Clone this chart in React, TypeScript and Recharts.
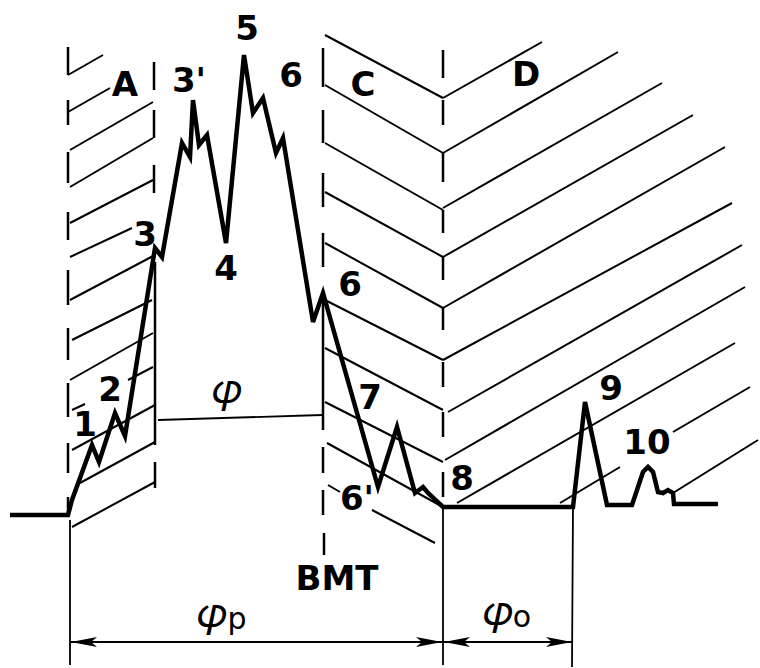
import React from "react";
import { ComposedChart, Line, Scatter, XAxis, YAxis } from "recharts";

/**
 * Injection pressure trace with hatched phases A / C / D.
 * Drawing units: x = crank angle scale (0..760), y = measured downward (0..668).
 */

// main pressure trace (points 1 .. 10)
const trace: [number, number][] = [
  [10, 515], [68, 515], [72, 500], [92, 445], [99, 462], [115, 413], [125, 436],
  [155, 248], [162, 257], [182, 143], [190, 157], [193, 100], [199, 145], [207, 135],
  [226, 243], [244, 55], [253, 113], [263, 98], [276, 153], [283, 138], [313, 322],
  [323, 293], [378, 487], [397, 427], [415, 493], [423, 487], [428, 493], [443, 507],
  [573, 507], [585, 402], [607, 505], [632, 505], [643, 472], [648, 467], [653, 472],
  [658, 492], [663, 493], [668, 490], [673, 493], [674, 504], [718, 504],
];

// hatch strokes, zone A (rising)
const hatchA: number[][] = [
  [68, 75, 103, 55], [68, 112, 110, 88], [70, 150, 153, 102], [70, 187, 153, 138],
  [70, 223, 153, 180], [70, 257, 132, 228], [70, 300, 155, 255], [72, 340, 152, 300],
  [70, 380, 153, 333], [72, 410, 85, 404], [128, 380, 153, 367], [72, 450, 155, 405],
  [80, 483, 155, 442], [72, 527, 155, 482],
];

// hatch strokes, zone C (falling)
const hatchC: number[][] = [
  [325, 35, 443, 98], [325, 85, 443, 153], [325, 143, 443, 210], [325, 192, 443, 257],
  [325, 243, 443, 308], [325, 300, 443, 360], [325, 348, 443, 410], [325, 402, 443, 462],
  [327, 443, 443, 507], [328, 485, 340, 492], [372, 510, 435, 543],
];

// hatch strokes, zone D (rising)
const hatchD: number[][] = [
  [443, 98, 542, 42], [443, 153, 618, 52], [443, 208, 662, 83], [443, 257, 693, 115],
  [443, 308, 725, 147], [443, 360, 732, 203], [448, 412, 742, 245], [445, 460, 745, 287],
  [457, 503, 735, 343], [560, 503, 620, 467], [673, 432, 750, 387], [673, 493, 758, 440],
];

// dashed zone boundaries: x, then dash spans (y from, y to)
const boundA1: number[][] = [
  [68, 47, 75], [68, 100, 125], [68, 152, 183], [68, 212, 240], [68, 270, 305],
  [68, 328, 360], [68, 383, 417], [68, 443, 473], [68, 497, 515],
];
const boundA2: number[][] = [
  [154, 62, 90], [154, 110, 138], [154, 165, 193], [155, 262, 445], [155, 462, 488],
];
const boundC: number[][] = [
  [323, 48, 87], [323, 110, 143], [323, 173, 207], [323, 233, 267], [323, 293, 430],
  [323, 447, 473], [323, 490, 515], [324, 533, 555],
];
const boundD: number[][] = [
  [443, 50, 78], [443, 100, 125], [443, 153, 182], [443, 210, 233], [443, 257, 280],
  [443, 308, 330], [443, 362, 387], [443, 412, 437], [443, 472, 497],
];

// dimension lines (φ, φp, φo) and extension lines
const dimLines: number[][] = [
  [158, 420, 322, 415], [70, 520, 70, 665], [443, 507, 443, 665], [573, 507, 572, 667],
  [70, 642, 573, 642],
];
const arrowHeads = [
  { x: 71, y: 642, dir: -1 },
  { x: 442, y: 642, dir: 1 },
  { x: 444, y: 642, dir: -1 },
  { x: 572, y: 642, dir: 1 },
];

const labels = [
  { x: 125, y: 84, t: "A" }, { x: 189, y: 80, t: "3'" }, { x: 247, y: 28, t: "5" },
  { x: 291, y: 75, t: "6" }, { x: 363, y: 84, t: "C" }, { x: 526, y: 74, t: "D" },
  { x: 145, y: 234, t: "3" }, { x: 226, y: 268, t: "4" }, { x: 350, y: 284, t: "6" },
  { x: 85, y: 424, t: "1" }, { x: 110, y: 389, t: "2" }, { x: 370, y: 397, t: "7" },
  { x: 357, y: 498, t: "6'" }, { x: 462, y: 478, t: "8" }, { x: 611, y: 388, t: "9" },
  { x: 647, y: 442, t: "10" }, { x: 337, y: 578, t: "BMT" },
];
const phiLabels = [
  { x: 227, y: 388, t: "\u{1D711}", sub: "" },
  { x: 222, y: 612, t: "\u{1D711}", sub: "p" },
  { x: 507, y: 610, t: "\u{1D711}", sub: "o" },
];

const toPath = (pts: [number, number][]) => pts.map(([x, y]) => ({ x, y }));
const segPath = (segs: number[][]) =>
  segs.flatMap(([x1, y1, x2, y2]) => [
    { x: x1, y: y1 },
    { x: x2, y: y2 },
    { x: null, y: null },
  ]);
const dashPath = (spans: number[][]) =>
  segPath(spans.map(([x, a, b]) => [x, a, x, b]));

const FONT = "'DejaVu Sans', sans-serif";

function Arrow(props: any) {
  const { cx, cy, payload } = props;
  const d = payload.dir;
  const len = 26;
  return (
    <polygon
      points={`${cx},${cy} ${cx - d * len},${cy - 5} ${cx - d * (len - 6)},${cy} ${cx - d * len},${cy + 5}`}
      fill="#000"
    />
  );
}

function Label(props: any) {
  const { cx, cy, payload } = props;
  return (
    <text
      x={cx}
      y={cy}
      textAnchor="middle"
      dominantBaseline="central"
      fontFamily={FONT}
      fontWeight="bold"
      fontSize={34}
      fill="#000"
    >
      {payload.t}
    </text>
  );
}

function PhiLabel(props: any) {
  const { cx, cy, payload } = props;
  return (
    <text
      x={cx}
      y={cy}
      textAnchor="middle"
      dominantBaseline="central"
      fontFamily={FONT}
      fontSize={42}
      fill="#000"
    >
      {payload.t}
      {payload.sub && (
        <tspan fontSize={30} dy={6}>
          {payload.sub}
        </tspan>
      )}
    </text>
  );
}

export default function App() {
  const thin = { stroke: "#000", strokeWidth: 2, dot: false, isAnimationActive: false, connectNulls: false } as const;

  return (
    <div style={{ position: "absolute", left: 0, top: 0, width: 760, height: 668, background: "#fff" }}>
      <ComposedChart width={760} height={668} margin={{ top: 0, right: 0, bottom: 0, left: 0 }}>
        <XAxis type="number" dataKey="x" domain={[0, 760]} allowDataOverflow hide />
        <YAxis type="number" dataKey="y" domain={[0, 668]} allowDataOverflow reversed hide />

        {/* hatching */}
        <Line data={segPath(hatchA)} dataKey="y" type="linear" {...thin} />
        <Line data={segPath(hatchC)} dataKey="y" type="linear" {...thin} />
        <Line data={segPath(hatchD)} dataKey="y" type="linear" {...thin} />

        {/* zone boundaries */}
        <Line data={dashPath(boundA1)} dataKey="y" type="linear" {...thin} strokeWidth={2.5} />
        <Line data={dashPath(boundA2)} dataKey="y" type="linear" {...thin} strokeWidth={2.5} />
        <Line data={dashPath(boundC)} dataKey="y" type="linear" {...thin} strokeWidth={2.5} />
        <Line data={dashPath(boundD)} dataKey="y" type="linear" {...thin} strokeWidth={2.5} />

        {/* dimensions */}
        <Line data={segPath(dimLines)} dataKey="y" type="linear" {...thin} strokeWidth={1.8} />
        <Scatter data={arrowHeads} shape={Arrow} isAnimationActive={false} />

        {/* pressure trace */}
        <Line
          data={toPath(trace)}
          dataKey="y"
          type="linear"
          stroke="#000"
          strokeWidth={4.5}
          strokeLinejoin="miter"
          dot={false}
          isAnimationActive={false}
        />

        <Scatter data={labels} shape={Label} isAnimationActive={false} />
        <Scatter data={phiLabels} shape={PhiLabel} isAnimationActive={false} />
      </ComposedChart>
    </div>
  );
}
